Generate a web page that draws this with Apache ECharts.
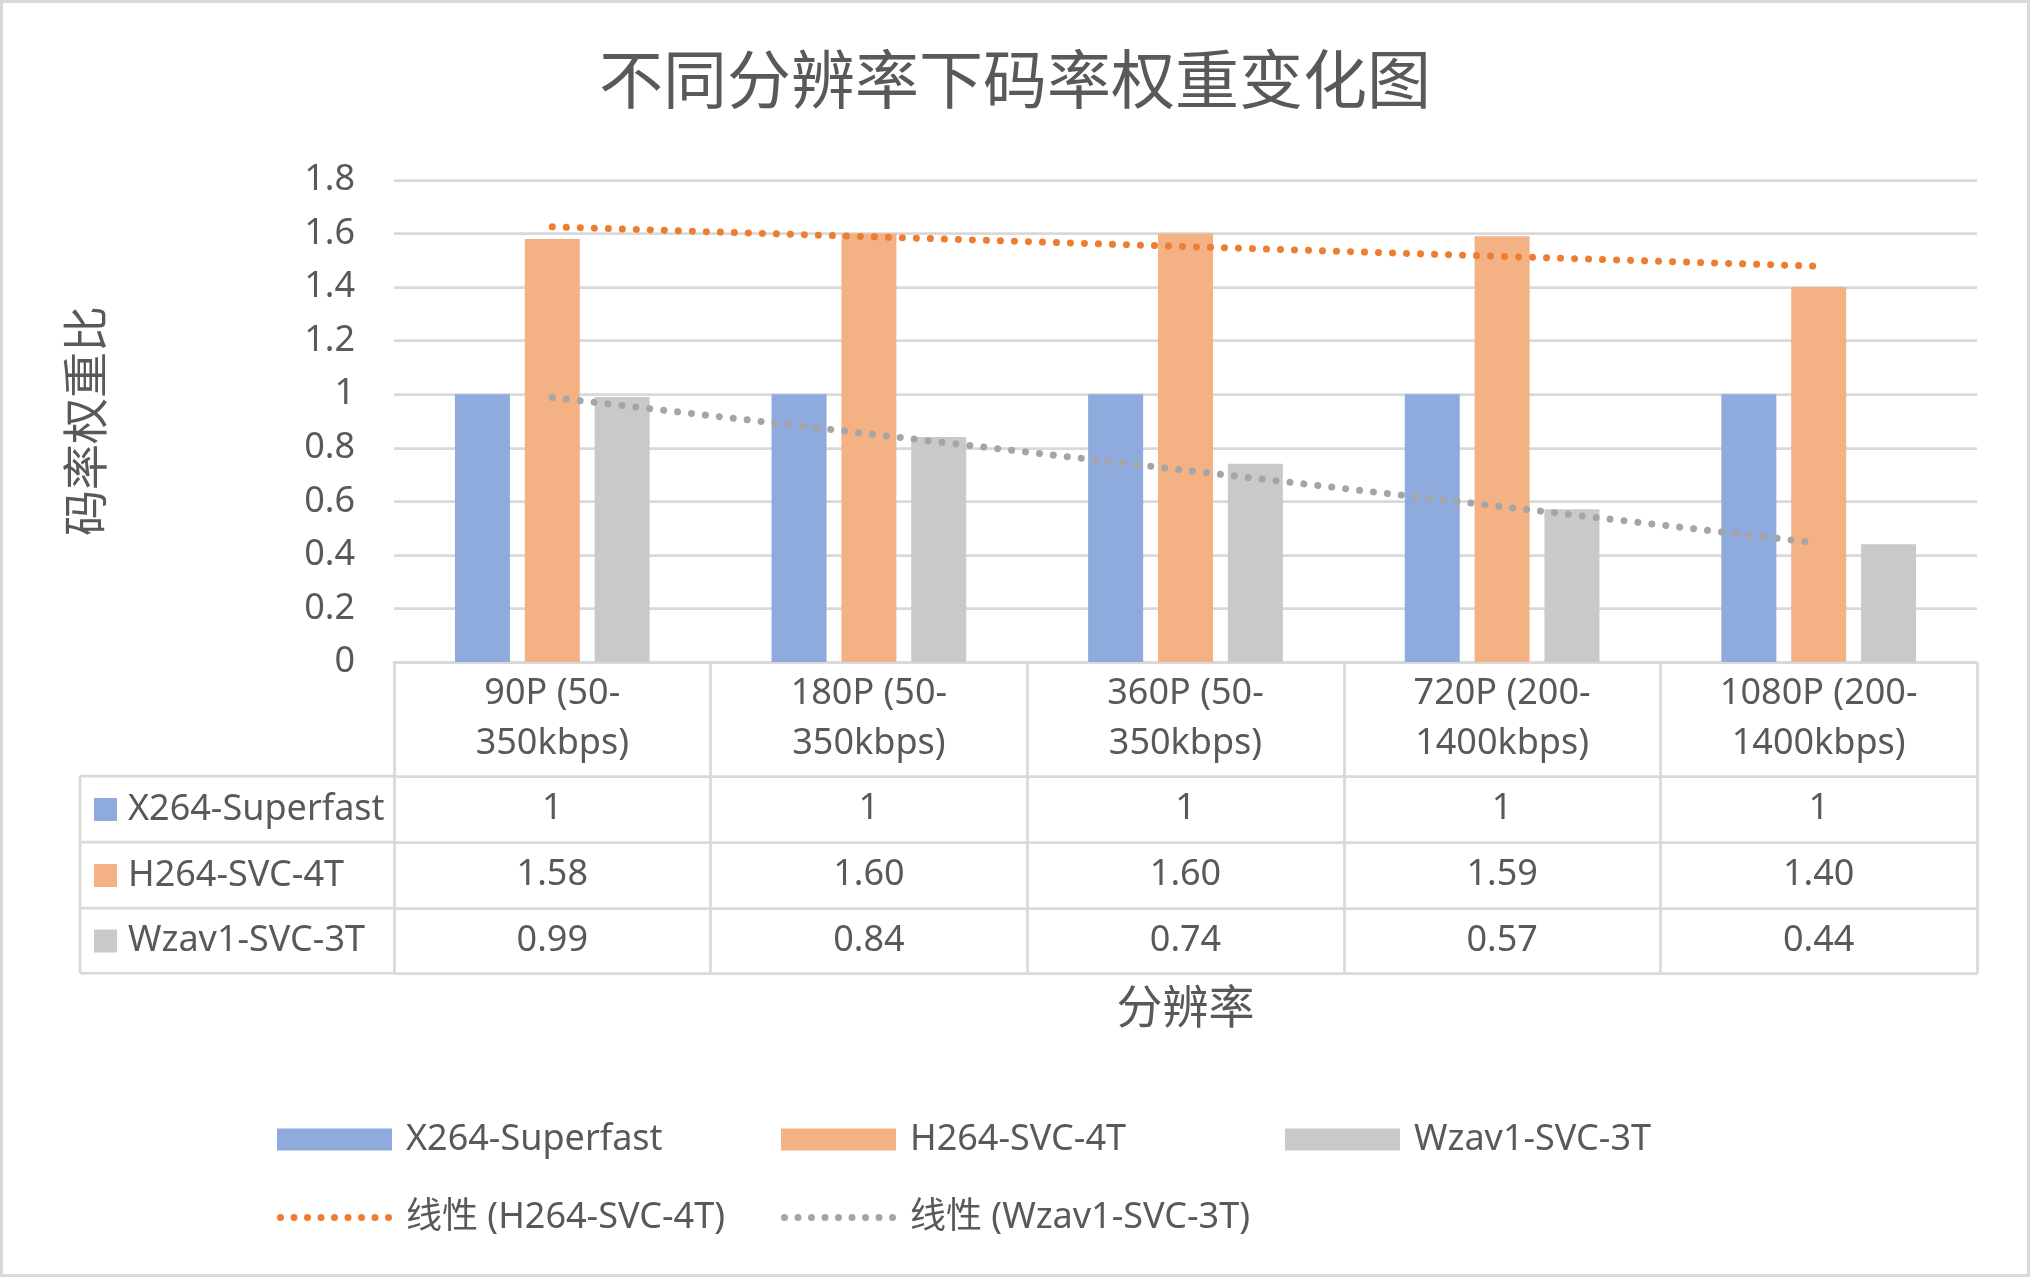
<!DOCTYPE html>
<html>
<head>
<meta charset="utf-8">
<script src="https://cdn.jsdelivr.net/npm/echarts@6/dist/echarts.min.js"></script>
<style>
html,body{margin:0;padding:0;background:#fff;}
#c{position:absolute;left:0;top:0;width:2030px;height:1277px;}
#frame{position:absolute;left:0;top:0;width:2030px;height:1277px;box-sizing:border-box;border:3px solid #d9d9d9;pointer-events:none;}
</style>
</head>
<body>
<div id="c"></div>
<div id="frame"></div>
<script>
// ---------------- data ----------------
const categories = ['90P (50-350kbps)', '180P (50-350kbps)', '360P (50-350kbps)', '720P (200-1400kbps)', '1080P (200-1400kbps)'];
const seriesNames = ['X264-Superfast', 'H264-SVC-4T', 'Wzav1-SVC-3T'];
const x264Superfast = [1, 1, 1, 1, 1];
const h264Svc4t = [1.58, 1.60, 1.60, 1.59, 1.40];
const wzav1Svc3t = [0.99, 0.84, 0.74, 0.57, 0.44];
const tableDecimals = [0, 2, 2]; // number format shown in the data table per series
// linear trendline end values (first and last category)
const trendH264 = [1.625, 1.478];
const trendWzav1 = [0.988, 0.444];
const trendNames = ['线性 (H264-SVC-4T)', '线性 (Wzav1-SVC-3T)'];
const yTicks = { min: 0, max: 1.8, interval: 0.2 };
const titleText = '不同分辨率下码率权重变化图';
const yAxisName = '码率权重比';
const xAxisName = '分辨率';

// ---------------- style ----------------
const FONT = '"Noto Sans", "Noto Sans CJK SC", sans-serif';
const TXT = '#595959';
const LINE = '#d9d9d9';
const LW = 2.75;
const barColors = ['#8FAADC', '#F4B183', '#C9C9C9'];
const trendColors = ['#ED7D31', '#A5A5A5'];

const GRID = { left: 394, right: 53, top: 180, bottom: 615 };
const CH = 1277;
const baseY = CH - GRID.bottom;            // 662
const rowOffsets = [0, 114, 180, 246, 311]; // table rule offsets below the axis
const seriesVals = [x264Superfast, h264Svc4t, wzav1Svc3t];

function fmt(v, d) { return d === 0 ? String(v) : v.toFixed(d); }
function wrapCat(v) { return v.replace(/\((\d+)-/, '($1-\n'); }

const xAxes = [];
// header row: category labels
xAxes.push({
  type: 'category', data: categories, position: 'bottom', offset: 0, gridIndex: 0,
  axisLine: { show: true, lineStyle: { color: LINE, width: LW } },
  axisTick: { show: true, length: rowOffsets[1], lineStyle: { color: LINE, width: LW } },
  axisLabel: { formatter: wrapCat, color: TXT, fontSize: 36, fontFamily: FONT, lineHeight: 50,
               margin: rowOffsets[1] / 2, verticalAlign: 'middle', interval: 0 },
  splitLine: { show: false }
});
// table rows
for (let r = 0; r < 3; r++) {
  const h = rowOffsets[r + 2] - rowOffsets[r + 1];
  xAxes.push({
    type: 'category', data: categories, position: 'bottom', offset: rowOffsets[r + 1], gridIndex: 0,
    axisLine: { show: true, lineStyle: { color: LINE, width: LW } },
    axisTick: { show: true, length: h, lineStyle: { color: LINE, width: LW } },
    axisLabel: { formatter: (v, i) => fmt(seriesVals[r][i], tableDecimals[r]), color: TXT, fontSize: 36,
                 fontFamily: FONT, margin: h / 2, verticalAlign: 'middle', interval: 0 },
    splitLine: { show: false }
  });
}
// bottom rule + axis title
xAxes.push({
  type: 'category', data: categories, position: 'bottom', offset: rowOffsets[4], gridIndex: 0,
  axisLine: { show: true, lineStyle: { color: LINE, width: LW } },
  axisTick: { show: false }, axisLabel: { show: false }, splitLine: { show: false },
  name: xAxisName, nameLocation: 'middle', nameGap: 37,
  nameTextStyle: { color: TXT, fontSize: 46, fontFamily: FONT, verticalAlign: 'middle' }
});

// left column of the data table (legend keys) – rules
const TL = 80;
const leftRules = [];
for (let r = 1; r <= 4; r++) {
  leftRules.push({ type: 'line', shape: { x1: TL, y1: baseY + rowOffsets[r], x2: GRID.left, y2: baseY + rowOffsets[r] },
                   style: { stroke: LINE, lineWidth: LW }, silent: true });
}
leftRules.push({ type: 'line', shape: { x1: TL, y1: baseY + rowOffsets[1], x2: TL, y2: baseY + rowOffsets[4] },
                 style: { stroke: LINE, lineWidth: LW }, silent: true });

// dotted legend glyph (9 round dots)
function dotsPath(w, d, n) {
  const r = d / 2, step = (w - d) / (n - 1);
  let p = 'path://';
  for (let i = 0; i < n; i++) {
    const cx = r + i * step;
    p += `M${cx - r} ${r}A${r} ${r} 0 1 0 ${cx + r} ${r}A${r} ${r} 0 1 0 ${cx - r} ${r}Z`;
  }
  return p;
}

const HALF = 17.5; // half of a legend item's height (text-driven)
const legends = [];
// table key legends
for (let r = 0; r < 3; r++) {
  const cy = baseY + (rowOffsets[r + 1] + rowOffsets[r + 2]) / 2;
  legends.push({
    data: [seriesNames[r]], left: 94, top: cy - HALF, padding: 0, icon: 'rect', itemWidth: 23, itemHeight: 23,
    textStyle: { color: TXT, fontSize: 36, fontFamily: FONT, padding: [0, 0, 0, 6] },
    selectedMode: false
  });
}
// bottom legend (fixed columns)
const legCols = [277, 781, 1285];
const legRows = [1139, 1217];
const legItems = [
  [seriesNames[0], 0, 0, 'bar'], [seriesNames[1], 1, 0, 'bar'], [seriesNames[2], 2, 0, 'bar'],
  [trendNames[0], 0, 1, 'line'], [trendNames[1], 1, 1, 'line']
];
legItems.forEach(([name, c, r, kind]) => {
  legends.push({
    data: [name], left: legCols[c], top: legRows[r] - HALF, padding: 0,
    itemWidth: 115, itemHeight: kind === 'bar' ? 22 : 7,
    icon: kind === 'bar' ? 'rect' : dotsPath(115, 7, 9),
    textStyle: { color: TXT, fontSize: 36, fontFamily: FONT, padding: [0, 0, 0, 9] },
    selectedMode: false
  });
});

const bars = seriesVals.map((vals, i) => ({
  name: seriesNames[i], type: 'bar', data: vals, xAxisIndex: 0, yAxisIndex: 0,
  barWidth: 55, barGap: '27%', itemStyle: { color: barColors[i] }, z: 2
}));
const trends = [trendH264, trendWzav1].map((t, i) => ({
  name: trendNames[i], type: 'line', xAxisIndex: 0, yAxisIndex: 0,
  data: [[categories[0], t[0]], [categories[categories.length - 1], t[1]]],
  symbol: 'none', showSymbol: false, z: 5,
  itemStyle: { color: trendColors[i] },
  lineStyle: { color: trendColors[i], width: 7, type: [0.01, 14], cap: 'round' }
}));

const chart = echarts.init(document.getElementById('c'), null, { renderer: 'canvas', width: 2030, height: 1277 });
chart.setOption({
  animation: false,
  backgroundColor: '#ffffff',
  title: { text: titleText, left: 'center', top: 48,
           textStyle: { color: TXT, fontSize: 64, fontWeight: 'normal', fontFamily: FONT, lineHeight: 64 } },
  grid: GRID,
  legend: legends,
  xAxis: xAxes,
  yAxis: {
    type: 'value', min: yTicks.min, max: yTicks.max, interval: yTicks.interval,
    axisLine: { show: false }, axisTick: { show: false },
    splitLine: { show: true, lineStyle: { color: LINE, width: LW } },
    axisLabel: { color: TXT, fontSize: 36, fontFamily: FONT, margin: 39,
                 formatter: v => String(parseFloat(v.toFixed(1))) },
    name: yAxisName, nameLocation: 'middle', nameRotate: 90, nameGap: 305,
    nameTextStyle: { color: TXT, fontSize: 46, fontFamily: FONT, verticalAlign: 'middle' }
  },
  graphic: leftRules,
  series: [...bars, ...trends]
});
</script>
</body>
</html>
